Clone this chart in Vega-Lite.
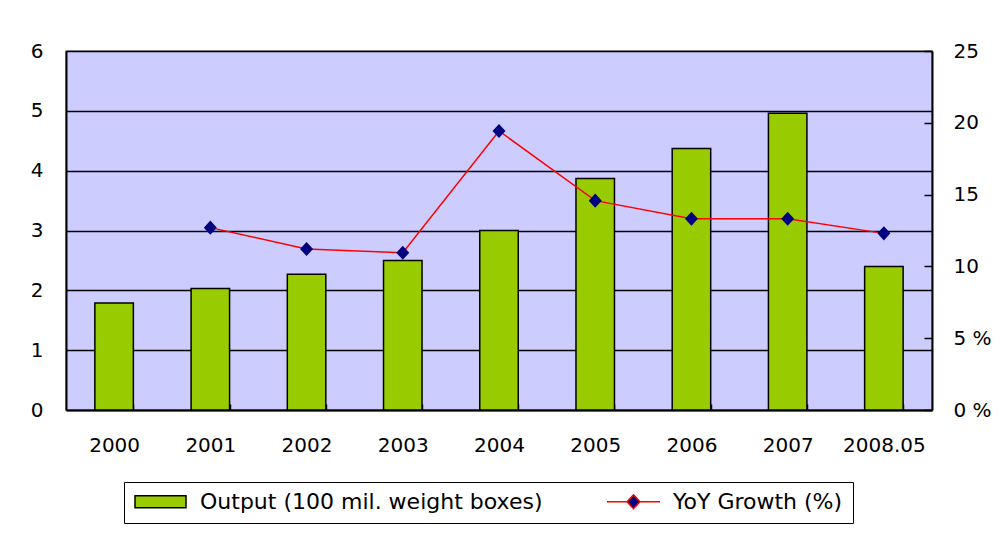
{
  "$schema": "https://vega.github.io/schema/vega-lite/v6.json",
  "width": 866,
  "height": 359,
  "autosize": {"type": "none"},
  "padding": {"left": 66, "top": 51, "right": 74, "bottom": 138},
  "background": "white",
  "config": {
    "font": "DejaVu Sans",
    "view": {"fill": "#CCCCFF", "stroke": "#888888", "strokeWidth": 1.5}
  },
  "data": {
    "values": [
      {"year": "2000", "output": 1.79, "growth": null},
      {"year": "2001", "output": 2.03, "growth": 12.70},
      {"year": "2002", "output": 2.27, "growth": 11.21},
      {"year": "2003", "output": 2.50, "growth": 10.95},
      {"year": "2004", "output": 3.00, "growth": 19.43},
      {"year": "2005", "output": 3.87, "growth": 14.58},
      {"year": "2006", "output": 4.37, "growth": 13.32},
      {"year": "2007", "output": 4.96, "growth": 13.32},
      {"year": "2008.05", "output": 2.40, "growth": 12.30}
    ]
  },
  "encoding": {
    "x": {
      "field": "year",
      "type": "ordinal",
      "sort": null,
      "scale": {"paddingInner": 0.6, "paddingOuter": 0.3},
      "axis": {
        "title": null,
        "labelAngle": 0,
        "labelFontSize": 20,
        "labelColor": "#000",
        "labelPadding": 31,
        "domainColor": "#000",
        "domainWidth": 2,
        "tickColor": "#000",
        "tickWidth": 1.5,
        "tickSize": -6,
        "tickBand": "extent",
        "grid": false
      }
    }
  },
  "layer": [
    {
      "mark": {"type": "bar", "stroke": "#000", "strokeWidth": 1.5},
      "encoding": {
        "y": {
          "field": "output",
          "type": "quantitative",
          "scale": {"domain": [0, 6], "nice": false},
          "axis": {
            "title": null,
            "values": [0, 1, 2, 3, 4, 5, 6],
            "labelFontSize": 20,
            "labelColor": "#000",
            "labelPadding": 23,
            "labelFlush": false,
            "labelOverlap": false,
            "ticks": false,
            "domainColor": "#000",
            "domainWidth": 2,
            "grid": true,
            "gridColor": "#000",
            "gridWidth": 1.5,
            "gridOpacity": 1
          }
        },
        "fill": {
          "datum": "Output (100 mil. weight boxes)",
          "scale": {
            "domain": ["Output (100 mil. weight boxes)", "YoY Growth (%)"],
            "range": ["#99CC00", "#000080"]
          },
          "legend": {
            "title": null, "orient": "none", "legendX": 58, "legendY": 431, "direction": "horizontal",
            "strokeColor": "#000", "fillColor": "#FFFFFF", "padding": 10, "symbolSize": 2601, "clipHeight": 19,
            "labelOffset": 13, "columnPadding": 64, "labelFontSize": 22, "labelColor": "#000", "labelLimit": 600,
            "symbolStrokeWidth": 1.5, "symbolOpacity": 1
          }
        }
      }
    },
    {
      "encoding": {
        "y": {
          "field": "growth",
          "type": "quantitative",
          "scale": {"domain": [0, 25], "nice": false},
          "axis": {
            "orient": "right",
            "title": null,
            "values": [0, 5, 10, 15, 20, 25],
            "labelExpr": "datum.value <= 5 ? datum.value + ' %' : '' + datum.value",
            "labelFontSize": 20,
            "labelColor": "#000",
            "labelPadding": 29,
            "labelFlush": false,
            "labelOverlap": false,
            "tickColor": "#000",
            "tickWidth": 1.5,
            "tickSize": -8,
            "domainColor": "#000",
            "domainWidth": 2,
            "grid": false
          }
        }
      },
      "layer": [
        {
          "mark": {"type": "line", "strokeWidth": 1.5},
          "encoding": {
            "stroke": {
              "datum": "YoY Growth (%)",
              "scale": {
                "domain": ["Output (100 mil. weight boxes)", "YoY Growth (%)"],
                "range": ["#000000", "#FF0000"]
              },
              "legend": {
                "title": null, "orient": "none", "legendX": 58, "legendY": 431, "direction": "horizontal",
                "strokeColor": "#000", "fillColor": "#FFFFFF", "padding": 10, "symbolSize": 2601, "clipHeight": 19,
                "labelOffset": 13, "columnPadding": 64, "labelFontSize": 22, "labelColor": "#000", "labelLimit": 600,
                "symbolStrokeWidth": 1.5, "symbolOpacity": 1
              }
            }
          }
        },
        {
          "mark": {"type": "point", "filled": true, "size": 2601, "opacity": 1},
          "encoding": {
            "fill": {
              "datum": "YoY Growth (%)",
              "legend": {
                "title": null, "orient": "none", "legendX": 58, "legendY": 431, "direction": "horizontal",
                "strokeColor": "#000", "fillColor": "#FFFFFF", "padding": 10, "symbolSize": 2601, "clipHeight": 19,
                "labelOffset": 13, "columnPadding": 64, "labelFontSize": 22, "labelColor": "#000", "labelLimit": 600,
                "symbolStrokeWidth": 1.5, "symbolOpacity": 1
              }
            },
            "shape": {
              "datum": "YoY Growth (%)",
              "scale": {
                "domain": ["Output (100 mil. weight boxes)", "YoY Growth (%)"],
                "range": ["M-1,-0.235H1V0.235H-1Z", "M-1.04,0H-0.26M0.26,0H1.04M0,-0.275L0.255,0L0,0.275L-0.255,0Z"]
              },
              "legend": {
                "title": null, "orient": "none", "legendX": 58, "legendY": 431, "direction": "horizontal",
                "strokeColor": "#000", "fillColor": "#FFFFFF", "padding": 10, "symbolSize": 2601, "clipHeight": 19,
                "labelOffset": 13, "columnPadding": 64, "labelFontSize": 22, "labelColor": "#000", "labelLimit": 600,
                "symbolStrokeWidth": 1.5, "symbolOpacity": 1
              }
            }
          }
        }
      ]
    }
  ],
  "resolve": {"scale": {"y": "independent"}}
}
